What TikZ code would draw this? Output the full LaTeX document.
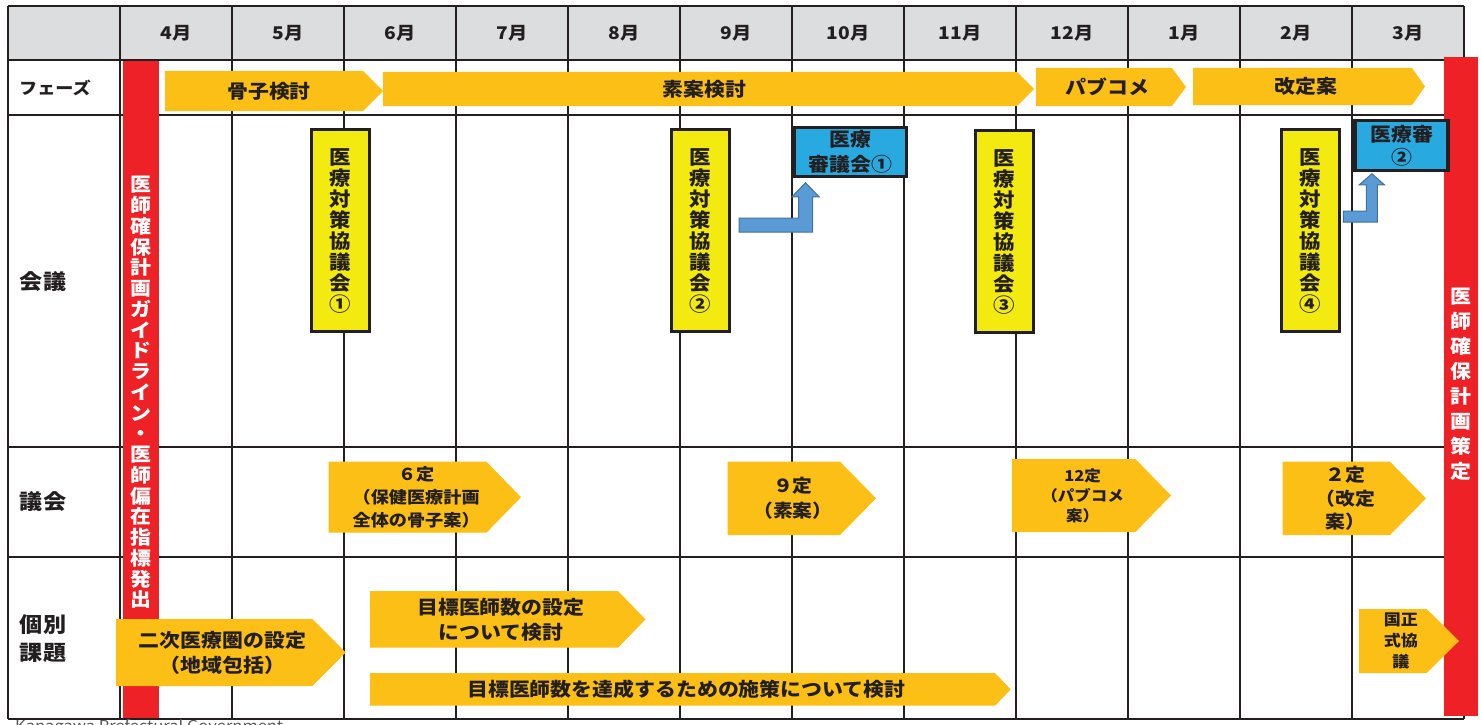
\documentclass[tikz,border=0pt]{standalone}
\usepackage{fontspec}
\setmainfont{Noto Sans CJK JP}[FakeStretch=1.1]
\usetikzlibrary{calc}

\definecolor{gridc}{HTML}{231F20}
\definecolor{headgray}{HTML}{DCDDDF}
\definecolor{barred}{HTML}{EE2127}
\definecolor{arrowyellow}{HTML}{FCBF15}
\definecolor{meetyellow}{HTML}{F3EA10}
\definecolor{boxblue}{HTML}{28AAE1}
\definecolor{arrowblue}{HTML}{5B9BD5}
\definecolor{arrowline}{HTML}{41719C}

\newcommand{\jsize}[2]{\fontsize{#1}{#2}\selectfont}

% yellow pentagon arrow: [options], name, x left, x body end, x tip, y top, y bottom, text
\newcommand{\yarrow}[8][]{%
  \fill[arrowyellow] (#3,#6) -- (#4,#6) -- (#5,{(#6+#7)/2}) -- (#4,#7) -- (#3,#7) -- cycle;
  \node[arrowtext,#1] (#2) at ({(#3+#4)/2+(#5-#4)/4},{(#6+#7)/2}) {#8};
}
% blue elbow arrow: start, tip, shaft half width, head half width, head length
\newcommand{\bluearrow}[5]{%
  \draw[blockarrow] ($(#1)+(0,-#3)$) -- ($(#2|-#1)+(-#3,-#3)$) -- ($(#2)+(-#3,#5)$)
    -- ($(#2)+(-#4,#5)$) -- (#2) -- ($(#2)+(#4,#5)$) -- ($(#2)+(#3,#5)$)
    -- ($(#2|-#1)+(#3,#3)$) -- ($(#1)+(0,#3)$) -- cycle;
}

\tikzset{
  gridline/.style={draw=gridc, line width=2.5pt},
  monthtext/.style={text=gridc, inner sep=0pt, font=\bfseries\jsize{17.5}{20}},
  rowlabel/.style={text=gridc, inner sep=0pt, align=center, font=\bfseries\jsize{21}{28}},
  arrowtext/.style={text=gridc, inner sep=0pt, align=center, font=\bfseries\jsize{19}{25}},
  meetbox/.style={draw=gridc, line width=3pt, fill=meetyellow, minimum width=57.7pt,
    minimum height=202pt, inner sep=0pt, align=center, text=gridc, font=\bfseries\jsize{19.5}{21}},
  bluebox/.style={draw=gridc, line width=3.5pt, fill=boxblue, inner sep=0pt, align=center,
    text=gridc, font=\bfseries\jsize{19}{25}},
  bartext/.style={text=white, inner sep=0pt, align=center, font=\bfseries\jsize{19}{20.75}},
  blockarrow/.style={fill=arrowblue, draw=arrowline, line width=1pt, line join=miter}
}

\begin{document}
\begin{tikzpicture}[x=1pt, y=-1pt]
\useasboundingbox (0,0) rectangle (1481,725);
\clip (0,0) rectangle (1481,725);

% table
\fill[headgray] (8,6) rectangle (1464,60);
\foreach \y in {6,60,115,447,557,719}
  \draw[gridline] (8,\y) -- (1464,\y);
\foreach \x in {8,120,232,...,1464}
  \draw[gridline] (\x,6) -- (\x,719);
\foreach \m [count=\i] in {4,5,6,7,8,9,10,11,12,1,2,3}
  \node[monthtext] (mon\i) at ({64+112*\i},33) {\m 月};

\node[rowlabel, font=\bfseries\jsize{16.5}{20}] (lphase) at (55,88) {フェーズ};
\node[rowlabel] (lmeet) at (43,282) {会議};
\node[rowlabel] (lcouncil) at (43,502) {議会};
\node[rowlabel] (ltask) at (43,639) {個別\\課題};

% red bars
\fill[barred] (123,61) rectangle (159,718);
\node[bartext] (guide) at (141,392.5) {医\\師\\確\\保\\計\\画\\ガ\\イ\\ド\\ラ\\イ\\ン\\・\\医\\師\\偏\\在\\指\\標\\発\\出};
\fill[barred] (1444,57) rectangle (1478,716);
\node[bartext, font=\bfseries\jsize{19}{25}] (plan) at (1461,384.5) {医\\師\\確\\保\\計\\画\\策\\定};

% phases
\yarrow{p1}{165}{363}{383}{71}{111}{骨子検討}
\yarrow{p2}{383}{1017}{1034}{72}{106}{素案検討}
\yarrow{p3}{1036}{1172}{1186}{68}{106}{パブコメ}
\yarrow{p4}{1193}{1412}{1425}{68}{105}{改定案}

% meetings
\node[meetbox] (m1) at (340.4,230.5) {医\\療\\対\\策\\協\\議\\会\\①};
\node[meetbox] (m2) at (700.7,230.5) {医\\療\\対\\策\\協\\議\\会\\②};
\node[meetbox] (m3) at (1004.4,231.5) {医\\療\\対\\策\\協\\議\\会\\③};
\node[meetbox] (m4) at (1310.5,230.5) {医\\療\\対\\策\\協\\議\\会\\④};
\node[bluebox, minimum width=112pt, minimum height=49pt] (s1) at (850.3,152) {医療\\審議会①};
\node[bluebox, minimum width=93pt, minimum height=50pt, font=\bfseries\jsize{19}{23}] (s2) at (1401.6,145.5) {医療審\\②};

\coordinate (a2) at ($(m2.east)+(8,-5.5)$);
\coordinate (t2) at ($(s1.south west)+(13,4.5)$);
\bluearrow{a2}{t2}{7}{13.5}{14}
\coordinate (a4) at ($(m4.east)+(2.5,-14)$);
\coordinate (t4) at ($(s2.south west)+(18.5,1.5)$);
\bluearrow{a4}{t4}{5.5}{12.5}{11}

% council
\yarrow[font=\bfseries\jsize{16.5}{23}]{c6}{328.6}{486.4}{521}{461.7}{532.7}{６定\\（保健医療計画\\全体の骨子案）}
\yarrow[font=\bfseries\jsize{18}{25}]{c9}{727.7}{840}{876}{461.7}{535}{９定\\（素案）}
\yarrow[font=\bfseries\jsize{15}{20}]{c12}{1012}{1135.4}{1171}{459}{532}{12定\\（パブコメ\\案）}
\yarrow[font=\bfseries\jsize{18}{23.5}]{c2}{1282.6}{1390}{1426}{461.7}{535}{２定\\（改定\\案）}

% tasks
\yarrow{t1}{116}{312.5}{345.7}{619}{686}{二次医療圏の設定\\（地域包括）}
\yarrow{t2}{370}{618}{645.5}{591}{647.7}{目標医師数の設定\\について検討}
\yarrow{t3}{370}{995}{1010.7}{673}{705.7}{目標医師数を達成するための施策について検討}
\yarrow[font=\bfseries\jsize{15.5}{21}]{t4}{1359}{1426.7}{1459}{609}{673}{国正\\式協\\議}

\node[anchor=base west, text=gray!70!black, inner sep=0pt, font=\jsize{15}{18}] (credit) at (15,731) {Kanagawa Prefectural Government};
\end{tikzpicture}
\end{document}
